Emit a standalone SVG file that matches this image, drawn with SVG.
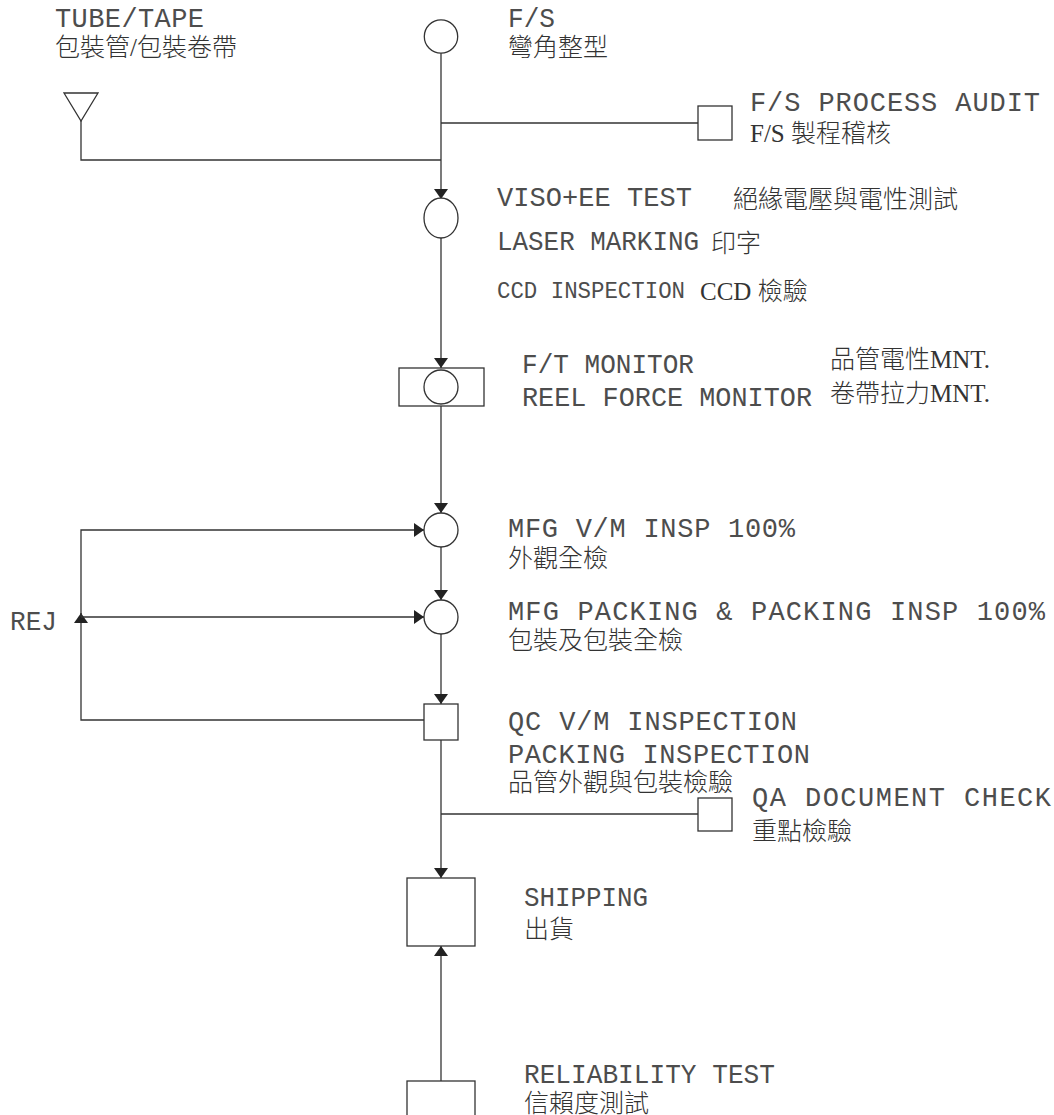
<svg xmlns="http://www.w3.org/2000/svg" width="1054" height="1115" viewBox="0 0 1054 1115">
<style>
.ln{stroke:#333;stroke-width:1.3;fill:none}
.nd{stroke:#333;stroke-width:1.3;fill:#fff}
.en{font-family:"Liberation Mono","DejaVu Sans Mono",monospace;font-size:27px;fill:#4d4d4d}
.cj{font-family:"Liberation Serif","Noto Sans CJK TC",serif;font-size:25px;fill:#333;font-weight:300}
</style>
<defs>
<marker id="ah" viewBox="0 0 10 14" refX="10" refY="7" markerWidth="10" markerHeight="14" markerUnits="userSpaceOnUse" orient="auto">
<path d="M0,0 L10,7 L0,14 Z" fill="#222"/>
</marker>
</defs>
<rect width="1054" height="1115" fill="#fff"/>
<g id="connectors">
<path class="ln" d="M441,53 V199" marker-end="url(#ah)"/>
<path class="ln" d="M81,121 V160 H441"/>
<path class="ln" d="M441,123 H698"/>
<path class="ln" d="M441,238 V368" marker-end="url(#ah)"/>
<path class="ln" d="M441,406 V513" marker-end="url(#ah)"/>
<path class="ln" d="M441,547 V600" marker-end="url(#ah)"/>
<path class="ln" d="M441,634 V704" marker-end="url(#ah)"/>
<path class="ln" d="M424,720 H81 V613" marker-end="url(#ah)"/>
<path class="ln" d="M81,617 V530 H424" marker-end="url(#ah)"/>
<path class="ln" d="M81,617 H424" marker-end="url(#ah)"/>
<path class="ln" d="M441,740 V878" marker-end="url(#ah)"/>
<path class="ln" d="M441,814 H698"/>
<path class="ln" d="M441,1081 V946" marker-end="url(#ah)"/>
</g>
<g id="tube">
<polygon class="nd" points="64,93 98,93 81,121"/>
<text class="en" x="55" y="27" textLength="149" lengthAdjust="spacing">TUBE/TAPE</text>
<text class="cj" x="55" y="56">包裝管/包裝卷帶</text>
</g>
<g id="fs">
<circle class="nd" cx="441" cy="36.5" r="16.7"/>
<text class="en" x="508" y="27" textLength="47" lengthAdjust="spacingAndGlyphs">F/S</text>
<text class="cj" x="508" y="56">彎角整型</text>
</g>
<g id="fs-audit">
<rect class="nd" x="698" y="106" width="34" height="34"/>
<text class="en" x="750" y="111" textLength="290" lengthAdjust="spacing">F/S PROCESS AUDIT</text>
<text class="cj" x="750" y="142">F/S 製程稽核</text>
</g>
<g id="viso">
<ellipse class="nd" cx="441" cy="218" rx="17" ry="20"/>
<text class="en" x="497" y="206" textLength="195" lengthAdjust="spacing">VISO+EE TEST</text>
<text class="cj" x="733" y="208">絕緣電壓與電性測試</text>
<text class="en" x="497" y="250" textLength="202" lengthAdjust="spacingAndGlyphs">LASER MARKING</text>
<text class="cj" x="711" y="252">印字</text>
<text class="en" x="497" y="298" style="font-size:24px" textLength="188" lengthAdjust="spacingAndGlyphs">CCD INSPECTION</text>
<text class="cj" x="700" y="300">CCD 檢驗</text>
</g>
<g id="ft-monitor">
<rect class="nd" x="399" y="368" width="85" height="38"/>
<circle class="nd" cx="441" cy="387" r="17"/>
<text class="en" x="522" y="373" textLength="172" lengthAdjust="spacingAndGlyphs">F/T MONITOR</text>
<text class="en" x="522" y="406" textLength="290" lengthAdjust="spacingAndGlyphs">REEL FORCE MONITOR</text>
<text class="cj" x="830" y="368">品管電性MNT.</text>
<text class="cj" x="830" y="402">卷帶拉力MNT.</text>
</g>
<g id="mfg-vm">
<circle class="nd" cx="441" cy="530" r="17"/>
<text class="en" x="508" y="537" textLength="287" lengthAdjust="spacing">MFG V/M INSP 100%</text>
<text class="cj" x="508" y="567">外觀全檢</text>
</g>
<g id="mfg-packing">
<circle class="nd" cx="441" cy="617" r="17"/>
<text class="en" x="508" y="620" textLength="537" lengthAdjust="spacing">MFG PACKING &amp; PACKING INSP 100%</text>
<text class="cj" x="508" y="649">包裝及包裝全檢</text>
</g>
<g id="rej">
<text class="en" x="10" y="630" textLength="47" lengthAdjust="spacingAndGlyphs">REJ</text>
</g>
<g id="qc">
<rect class="nd" x="424" y="704" width="34" height="36"/>
<text class="en" x="508" y="730" textLength="289" lengthAdjust="spacing">QC V/M INSPECTION</text>
<text class="en" x="508" y="763" textLength="302" lengthAdjust="spacing">PACKING INSPECTION</text>
<text class="cj" x="508" y="791">品管外觀與包裝檢驗</text>
</g>
<g id="qa">
<rect class="nd" x="698" y="798" width="34" height="33"/>
<text class="en" x="752" y="806" textLength="299" lengthAdjust="spacing">QA DOCUMENT CHECK</text>
<text class="cj" x="752" y="840">重點檢驗</text>
</g>
<g id="shipping">
<rect class="nd" x="407" y="878" width="68" height="68"/>
<text class="en" x="524" y="906" textLength="124" lengthAdjust="spacingAndGlyphs">SHIPPING</text>
<text class="cj" x="524" y="938">出貨</text>
</g>
<g id="reliability">
<rect class="nd" x="407" y="1081" width="68" height="45"/>
<text class="en" x="524" y="1083" textLength="251" lengthAdjust="spacingAndGlyphs">RELIABILITY TEST</text>
<text class="cj" x="524" y="1112">信賴度測試</text>
</g>
</svg>
